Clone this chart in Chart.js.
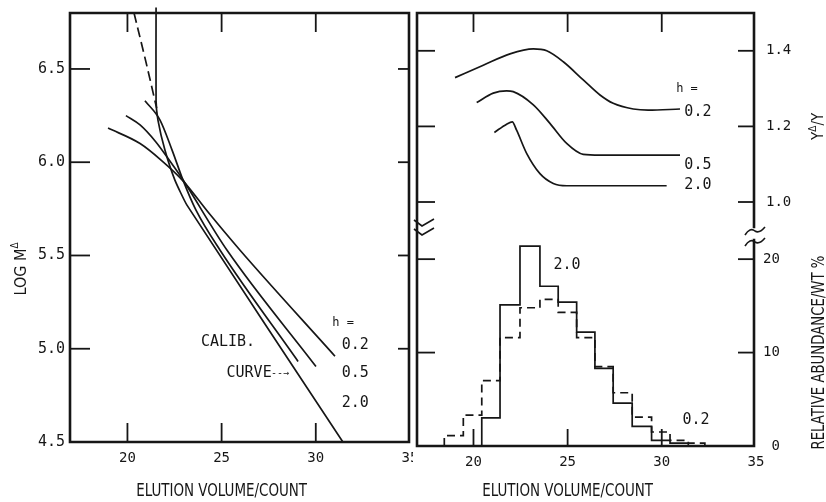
<!DOCTYPE html>
<html>
<head>
<meta charset="utf-8">
<script src="https://cdn.jsdelivr.net/npm/chart.js@4.4.1/dist/chart.umd.min.js"></script>
<style>
  html, body { margin: 0; padding: 0; background: #fff; }
  .wrap { display: flex; width: 826px; height: 502px; }
  canvas { display: block; }
</style>
</head>
<body>
<div class="wrap">
  <canvas id="leftChart" width="413" height="502"></canvas>
  <canvas id="rightChart" width="413" height="502"></canvas>
</div>
<script>
// tick values
const countTicks = [20, 25, 30, 35];
const logMTicks = [4.5, 5.0, 5.5, 6.0, 6.5];
const ratioTicks = [1.0, 1.2, 1.4];
const abundTicks = [0, 10, 20];

// left panel: log M vs elution count
const calibCount = [21.52, 21.52, 21.62, 21.99, 22.52, 23.16, 31.44];
const calibLogM  = [6.83, 6.33, 6.226, 6.065, 5.904, 5.77, 4.5];
const calibExtCount = [20.35, 21.0, 21.55];
const calibExtLogM  = [6.8, 6.53, 6.29];
const h02Count = [18.97, 20.67, 21.8, 22.95, 24.3, 25.98, 31.02];
const h02LogM  = [6.183, 6.10, 6.01, 5.90, 5.73, 5.528, 4.96];
const h05Count = [19.92, 20.67, 21.5, 22.3, 22.79, 25.29, 30.01];
const h05LogM  = [6.25, 6.20, 6.11, 6.00, 5.93, 5.528, 4.905];
const h20Count = [20.93, 21.73, 22.37, 22.95, 23.64, 24.92, 29.06];
const h20LogM  = [6.33, 6.226, 6.065, 5.904, 5.743, 5.528, 4.932];

// right panel top: Y^/Y ratio
const ratioCountH02 = [19.02, 20.52, 21.94, 23.18, 23.89, 24.77, 25.83, 26.72, 27.42, 28.49, 29.28, 30.97];
const ratioH02      = [1.329, 1.362, 1.392, 1.405, 1.400, 1.371, 1.323, 1.283, 1.261, 1.246, 1.243, 1.246];
const ratioCountH05 = [20.17, 21.05, 21.76, 22.11, 23.18, 24.06, 24.95, 25.83, 26.72, 30.97];
const ratioH05      = [1.263, 1.288, 1.294, 1.292, 1.257, 1.208, 1.155, 1.126, 1.124, 1.124];
const ratioCountH20 = [21.11, 21.76, 22.06, 22.29, 22.83, 23.53, 24.24, 24.95, 30.26];
const ratioH20      = [1.184, 1.206, 1.212, 1.190, 1.128, 1.075, 1.049, 1.043, 1.043];

// right panel bottom: histograms (bin edges + heights, wt %)
const binEdgesH02 = [18.45, 19.46, 20.44, 21.41, 22.47, 23.53, 24.50, 25.48, 26.45, 27.42, 28.43, 29.46, 30.44, 31.41, 32.29];
const abundH02    = [1.1, 3.3, 7.0, 11.6, 14.8, 15.7, 14.3, 11.6, 8.5, 5.7, 3.1, 1.5, 0.6, 0.3];
const binEdgesH20 = [20.44, 21.41, 22.47, 23.53, 24.50, 25.48, 26.45, 27.42, 28.43, 29.46, 30.44, 31.41];
const abundH20    = [3.0, 15.1, 21.4, 17.1, 15.4, 12.2, 8.3, 4.6, 2.1, 0.6, 0.3];

const ink = '#161616';
const MONO = "'DejaVu Sans Mono', 'Liberation Mono', monospace";
const NARROW = "'Liberation Sans Narrow', 'DejaVu Sans Condensed', 'Liberation Sans', sans-serif";

function curve(xs, ys, extra) {
    return Object.assign({
        data: xs.map((x, i) => ({x: x, y: ys[i]})),
        showLine: true,
        borderColor: ink,
        borderWidth: 1.7,
        pointRadius: 0,
        fill: false,
        cubicInterpolationMode: 'monotone'
    }, extra);
}

function steps(edges, heights, extra) {
    const pts = [{x: edges[0], y: 0}];
    edges.forEach((e, i) => pts.push({x: e, y: i < heights.length ? heights[i] : 0}));
    return Object.assign({
        data: pts,
        showLine: true,
        stepped: 'before',
        borderColor: ink,
        borderWidth: 1.7,
        pointRadius: 0,
        fill: false
    }, extra);
}

function drawParts(ctx, parts, x, y, rot, size, family, squeeze) {
    ctx.save();
    ctx.translate(x, y);
    ctx.rotate(rot);
    ctx.scale(squeeze || 1, 1);
    const fonts = parts.map(p => (p.sup ? Math.round(size * 0.65) : size) + 'px ' + family);
    const widths = parts.map((p, i) => { ctx.font = fonts[i]; return ctx.measureText(p.t).width; });
    let cx = -widths.reduce((s, w) => s + w, 0) / 2;
    ctx.textAlign = 'left';
    ctx.textBaseline = 'alphabetic';
    parts.forEach((p, i) => {
        ctx.font = fonts[i];
        ctx.fillText(p.t, cx, size * 0.36 - (p.sup ? size * 0.5 : 0));
        cx += widths[i];
    });
    ctx.restore();
}

// frame, inward ticks, axis titles, notes, axis break
const decor = {
    id: 'decor',
    afterDatasetsDraw(chart, args, o) {
        const {ctx, chartArea: a, scales} = chart;
        ctx.save();
        ctx.strokeStyle = ink;
        ctx.fillStyle = ink;

        ctx.lineWidth = 1.8;
        (o.marks || []).forEach(m => {
            const s = scales[m.scale];
            m.values.forEach(v => {
                const p = s.getPixelForValue(v);
                ctx.beginPath();
                if (m.side === 'top') { ctx.moveTo(p, a.top); ctx.lineTo(p, a.top + m.len); }
                else if (m.side === 'bottom') { ctx.moveTo(p, a.bottom); ctx.lineTo(p, a.bottom - m.len); }
                else if (m.side === 'left') { ctx.moveTo(a.left, p); ctx.lineTo(a.left + m.len, p); }
                else { ctx.moveTo(a.right, p); ctx.lineTo(a.right - m.len, p); }
                ctx.stroke();
            });
        });

        ctx.lineWidth = 2.6;
        ctx.lineCap = 'square';
        ctx.beginPath();
        ctx.moveTo(a.left, a.bottom);
        ctx.lineTo(a.left, a.top);
        ctx.lineTo(a.right, a.top);
        ctx.moveTo(a.left, a.bottom);
        ctx.lineTo(a.right, a.bottom);
        if (o.split) {
            const sp = scales[o.split].bottom;
            ctx.moveTo(a.right, a.top); ctx.lineTo(a.right, sp - 6);
            ctx.moveTo(a.right, sp + 7); ctx.lineTo(a.right, a.bottom);
        } else {
            ctx.moveTo(a.right, a.top); ctx.lineTo(a.right, a.bottom);
        }
        ctx.stroke();
        ctx.lineCap = 'butt';

        if (o.split) {
            const sp = scales[o.split].bottom;
            ctx.lineWidth = 1.6;
            [sp - 9, sp] .forEach(y => {
                ctx.beginPath();
                ctx.moveTo(a.left - 3, y - 4);
                ctx.lineTo(a.left + 5, y + 2);
                ctx.lineTo(a.left + 17, y - 5);
                ctx.stroke();
            });
            [sp - 2, sp + 9].forEach(y => {
                ctx.beginPath();
                ctx.moveTo(a.right - 9, y + 4);
                ctx.quadraticCurveTo(a.right - 4, y - 4, a.right + 1, y);
                ctx.quadraticCurveTo(a.right + 5, y + 3, a.right + 11, y - 4);
                ctx.stroke();
            });
        }

        (o.titles || []).forEach(t => {
            const x = t.xScale ? scales[t.xScale].getPixelForValue(t.xVal) : t.xPix;
            const y = t.yScale ? scales[t.yScale].getPixelForValue(t.yVal) : t.yPix;
            drawParts(ctx, t.parts, x, y, t.rot || 0, t.size, NARROW, t.squeeze);
        });

        (o.notes || []).forEach(n => {
            const x = scales[n.xScale || 'x'].getPixelForValue(n.x);
            const y = scales[n.yScale || 'y'].getPixelForValue(n.y);
            ctx.font = n.size + 'px ' + MONO;
            ctx.textAlign = 'center';
            ctx.textBaseline = 'middle';
            ctx.fillText(n.text, x, y);
        });
        ctx.restore();
    }
};

function fixed(values) {
    return s => { s.ticks = values.map(v => ({value: v})); };
}
function noPad(s) {
    s.paddingLeft = 0; s.paddingRight = 0; s.paddingTop = 0; s.paddingBottom = 0;
}

const leftNotes = [
    {text: 'h =', x: 31.45, y: 5.14, size: 12},
    {text: '0.2', x: 32.1, y: 5.02, size: 15},
    {text: '0.5', x: 32.1, y: 4.87, size: 15},
    {text: '2.0', x: 32.1, y: 4.71, size: 15},
    {text: 'CALIB.', x: 25.34, y: 5.034, size: 15},
    {text: 'CURVE', x: 26.46, y: 4.87, size: 15},
    {text: '--\u2192', x: 28.1, y: 4.87, size: 10}
];

const rightNotes = [
    {text: 'h =', x: 31.34, y: 1.30, yScale: 'yTop', size: 12},
    {text: '0.2', x: 31.92, y: 1.238, yScale: 'yTop', size: 15},
    {text: '0.5', x: 31.92, y: 1.098, yScale: 'yTop', size: 15},
    {text: '2.0', x: 31.92, y: 1.045, yScale: 'yTop', size: 15},
    {text: '2.0', x: 24.97, y: 19.4, yScale: 'yBot', size: 15},
    {text: '0.2', x: 31.82, y: 2.8, yScale: 'yBot', size: 15}
];

const tickFont = {family: MONO, size: 14};

new Chart(document.getElementById('leftChart'), {
    type: 'scatter',
    data: {
        datasets: [
            curve(calibCount, calibLogM, {cubicInterpolationMode: 'default', tension: 0.15, clip: {left: 0, top: 7, right: 0, bottom: 0}}),
            curve(calibExtCount, calibExtLogM, {borderDash: [10, 5]}),
            curve(h02Count, h02LogM),
            curve(h05Count, h05LogM),
            curve(h20Count, h20LogM)
        ]
    },
    options: {
        responsive: false,
        animation: false,
        devicePixelRatio: 1,
        layout: {padding: {top: 13, right: 4, left: 0, bottom: 0}},
        scales: {
            x: {
                type: 'linear', min: 16.95, max: 34.95,
                afterBuildTicks: fixed(countTicks),
                ticks: {font: tickFont, color: ink, padding: 8, autoSkip: false, maxRotation: 0, callback: v => String(v)},
                grid: {display: false, drawTicks: false},
                border: {display: false},
                afterFit: s => { s.height = 60; noPad(s); }
            },
            y: {
                type: 'linear', min: 4.5, max: 6.8,
                afterBuildTicks: fixed(logMTicks),
                ticks: {font: {family: MONO, size: 15}, color: ink, padding: 5, autoSkip: false, callback: v => v.toFixed(1)},
                grid: {display: false, drawTicks: false},
                border: {display: false},
                afterFit: s => { s.width = 70; noPad(s); }
            }
        },
        plugins: {
            legend: {display: false},
            tooltip: {enabled: false},
            decor: {
                marks: [
                    {scale: 'x', values: [20, 25, 30], side: 'top', len: 19},
                    {scale: 'x', values: [20, 25, 30], side: 'bottom', len: 19},
                    {scale: 'y', values: [5.0, 5.5, 6.0, 6.5], side: 'left', len: 20},
                    {scale: 'y', values: [5.0, 5.5, 6.0, 6.5], side: 'right', len: 11}
                ],
                titles: [
                    {parts: [{t: 'ELUTION VOLUME/COUNT'}], xScale: 'x', xVal: 25, yPix: 490, size: 18, squeeze: 0.83},
                    {parts: [{t: 'LOG M'}, {t: '\u0394', sup: true}], xPix: 20, yPix: 269, rot: -Math.PI / 2, size: 16}
                ],
                notes: leftNotes
            }
        }
    },
    plugins: [decor]
});

new Chart(document.getElementById('rightChart'), {
    type: 'scatter',
    data: {
        datasets: [
            curve(ratioCountH02, ratioH02, {yAxisID: 'yTop'}),
            curve(ratioCountH05, ratioH05, {yAxisID: 'yTop'}),
            curve(ratioCountH20, ratioH20, {yAxisID: 'yTop'}),
            steps(binEdgesH02, abundH02, {yAxisID: 'yBot', borderDash: [8, 5]}),
            steps(binEdgesH20, abundH20, {yAxisID: 'yBot'})
        ]
    },
    options: {
        responsive: false,
        animation: false,
        devicePixelRatio: 1,
        layout: {padding: {top: 13, right: 0, left: 4, bottom: 0}},
        scales: {
            x: {
                type: 'linear', min: 17, max: 34.9,
                afterBuildTicks: fixed(countTicks),
                ticks: {font: tickFont, color: ink, padding: 8, autoSkip: false, maxRotation: 0, callback: v => String(v)},
                grid: {display: false, drawTicks: false},
                border: {display: false},
                afterFit: s => { s.height = 56; noPad(s); }
            },
            yTop: {
                type: 'linear', position: 'right', stack: 'r', stackWeight: 220,
                min: 0.918, max: 1.5,
                afterBuildTicks: fixed(ratioTicks),
                ticks: {font: tickFont, color: ink, padding: 12, crossAlign: 'near', autoSkip: false, callback: v => v.toFixed(1)},
                grid: {display: false, drawTicks: false},
                border: {display: false},
                afterFit: s => { s.width = 72; noPad(s); }
            },
            yBot: {
                type: 'linear', position: 'right', stack: 'r', stackWeight: 213,
                min: 0, max: 22.8,
                afterBuildTicks: fixed(abundTicks),
                ticks: {font: tickFont, color: ink, padding: 9, crossAlign: 'near', autoSkip: false, callback: v => String(v).padStart(2, ' ')},
                grid: {display: false, drawTicks: false},
                border: {display: false},
                afterFit: s => { s.width = 72; noPad(s); }
            }
        },
        plugins: {
            legend: {display: false},
            tooltip: {enabled: false},
            decor: {
                split: 'yTop',
                marks: [
                    {scale: 'x', values: [20, 25, 30], side: 'top', len: 19},
                    {scale: 'x', values: [20, 25, 30], side: 'bottom', len: 17},
                    {scale: 'yTop', values: ratioTicks, side: 'left', len: 18},
                    {scale: 'yTop', values: ratioTicks, side: 'right', len: 16},
                    {scale: 'yBot', values: [10, 20], side: 'left', len: 18},
                    {scale: 'yBot', values: [10, 20], side: 'right', len: 16}
                ],
                titles: [
                    {parts: [{t: 'ELUTION VOLUME/COUNT'}], xScale: 'x', xVal: 25, yPix: 490, size: 18, squeeze: 0.83},
                    {parts: [{t: 'Y'}, {t: '\u0394', sup: true}, {t: '/Y'}], xPix: 405, yScale: 'yTop', yVal: 1.2, rot: -Math.PI / 2, size: 15},
                    {parts: [{t: 'RELATIVE ABUNDANCE/WT %'}], xPix: 405, yScale: 'yBot', yVal: 10, rot: -Math.PI / 2, size: 18, squeeze: 0.82}
                ],
                notes: rightNotes
            }
        }
    },
    plugins: [decor]
});
</script>
</body>
</html>
